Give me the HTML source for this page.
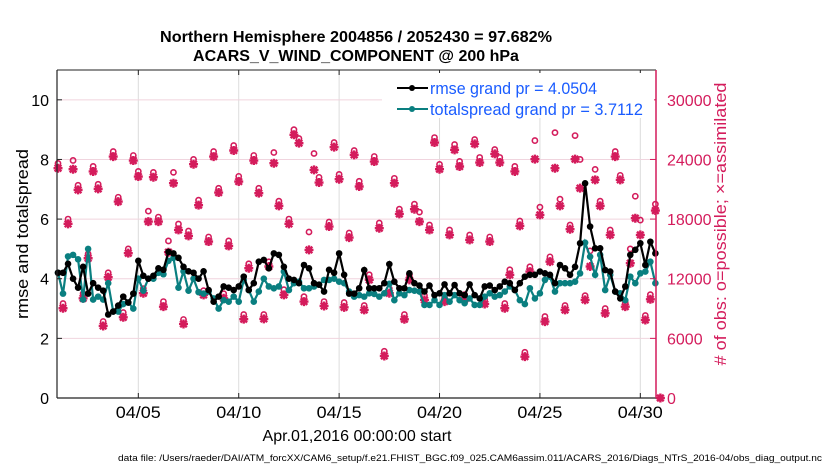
<!DOCTYPE html>
<html><head><meta charset="utf-8"><style>
body{margin:0;background:#fff;}
svg text{font-family:"Liberation Sans",Arial,sans-serif;}
</style></head><body>
<svg id="chart" width="830" height="470" viewBox="0 0 830 470" xmlns="http://www.w3.org/2000/svg">
<rect x="0" y="0" width="830" height="470" fill="#fff"/>
<text x="356" y="42" text-anchor="middle" font-size="16" font-weight="bold" textLength="392" lengthAdjust="spacingAndGlyphs">Northern Hemisphere 2004856 / 2052430 = 97.682%</text>
<text x="356" y="61" text-anchor="middle" font-size="16" font-weight="bold">ACARS_V_WIND_COMPONENT @ 200 hPa</text>
<g id="grid"></g>
<g id="obs"></g>
<g id="lines"></g>
<g id="axes"></g>
<text transform="translate(28,234) rotate(-90)" text-anchor="middle" font-size="17" textLength="170" lengthAdjust="spacingAndGlyphs">rmse and totalspread</text>
<text transform="translate(726,224) rotate(-90)" text-anchor="middle" font-size="17" fill="#d41c5c" textLength="283" lengthAdjust="spacingAndGlyphs"># of obs: o=possible; ×=assimilated</text>
<text x="357" y="441" text-anchor="middle" font-size="16" textLength="189" lengthAdjust="spacingAndGlyphs">Apr.01,2016 00:00:00 start</text>
<text x="470" y="461" text-anchor="middle" font-size="9" textLength="704" lengthAdjust="spacingAndGlyphs">data file: /Users/raeder/DAI/ATM_forcXX/CAM6_setup/f.e21.FHIST_BGC.f09_025.CAM6assim.011/ACARS_2016/Diags_NTrS_2016-04/obs_diag_output.nc</text>
<g>
<rect x="382" y="73" width="272" height="45" fill="#fff"/>
<g>
<line x1="397" y1="88" x2="428" y2="88" stroke="#000" stroke-width="2"/><circle cx="412" cy="88" r="3" fill="#000"/>
<text x="430" y="94" font-size="17" fill="#1a5cff" textLength="167" lengthAdjust="spacingAndGlyphs">rmse grand pr = 4.0504</text></g>
<g>
<line x1="397" y1="109" x2="428" y2="109" stroke="#0a7f80" stroke-width="2"/><circle cx="412" cy="109" r="3" fill="#0a7f80"/>
<text x="430" y="115" font-size="17" fill="#1a5cff" textLength="213" lengthAdjust="spacingAndGlyphs">totalspread grand pr = 3.7112</text></g>
</g>
</svg>
<script>
const rmse=[4.2,4.2,4.5,4.0,3.7,4.4,3.5,3.85,3.7,3.6,2.8,2.9,3.1,3.4,3.2,3.5,4.6,4.1,4.0,4.1,4.35,4.3,4.9,4.85,4.7,4.4,4.25,4.2,4.0,4.25,
3.62,3.23,3.4,3.74,3.7,3.62,3.74,4.07,3.62,3.85,4.57,4.63,4.35,4.85,4.8,4.4,4.0,3.96,3.85,4.46,4.35,3.85,3.8,3.57,4.3,4.2,4.85,4.13,3.5,3.5,
3.68,4.29,3.68,3.68,3.68,3.85,4.49,3.9,3.68,3.68,4.18,3.85,3.77,3.57,3.77,3.45,3.51,3.81,3.51,3.79,3.51,3.45,3.81,3.45,3.34,3.74,3.77,3.62,3.74,3.9,
3.85,3.62,3.85,4.07,4.13,4.13,4.24,4.18,4.13,3.85,4.46,4.35,4.13,4.4,5.19,7.2,5.75,5.02,5.02,4.29,4.24,3.57,3.34,3.74,4.8,4.97,5.19,4.46,5.24,4.85];
const spread=[4.2,3.5,4.75,4.8,4.65,3.3,5.0,3.3,3.4,3.3,3.85,2.9,2.9,3.15,3.2,3.0,4.0,3.6,4.0,4.0,4.2,4.15,4.6,4.7,3.7,4.25,3.6,4.0,3.55,3.5,
3.57,3.34,3.0,3.28,3.23,3.4,3.23,3.96,3.62,3.23,3.57,4.0,3.74,3.68,3.74,4.24,3.62,3.85,3.9,3.68,3.68,3.74,3.8,3.96,3.96,4.0,3.9,3.85,3.57,3.4,
3.45,3.4,3.51,3.49,3.4,3.51,3.83,3.28,3.51,3.45,3.62,3.6,3.57,3.12,3.12,3.28,3.12,3.45,3.23,3.45,3.28,3.18,3.34,3.12,3.12,3.4,3.51,3.4,3.45,3.57,
3.74,3.62,3.28,3.15,3.68,3.34,3.51,3.96,4.07,3.57,3.85,3.85,3.85,3.9,4.18,5.21,4.74,4.13,4.8,3.62,4.13,3.57,3.51,3.28,4.07,3.85,4.18,4.24,4.57,3.85];
const assimilated=[23120,9030,17520,23020,20940,10030,14060,22790,21040,7250,12150,24290,19760,8120,14570,23890,22280,10540,17750,22210,17750,9190,14670,21610,16910,7450,16310,23520,19400,10370,
15740,24290,20670,10030,15300,24900,21780,7930,13060,23890,20610,7960,13230,23620,19330,10370,17520,26480,25640,9700,14900,22950,21680,9260,17250,25240,22010,9120,16140,24460,
21280,8860,11890,23790,17080,4230,10540,21610,18520,7920,11890,18990,17750,9870,16910,25700,23020,9700,16410,24970,23290,9930,15910,25570,23690,9460,15740,24560,23690,9030,
12390,22790,17320,4160,12720,24030,18420,7690,13720,23120,19330,8860,16980,24030,21110,9870,13230,21950,19330,8520,16410,24290,21950,9190,13560,18090,16410,7850,9930,18860,0];
const possible=[23600,9500,18000,23900,21400,10500,14500,23300,21500,7700,12600,24800,20200,8600,15000,24400,22800,11000,18800,22700,18200,9700,15800,22700,17500,7900,16800,24000,19900,10800,
16200,24800,21100,10500,15800,25400,22300,8400,13500,24400,21100,8400,13700,24700,19800,10900,18000,27000,26100,10200,16700,24600,22200,9700,17700,25700,22500,9600,16600,24900,
21800,9300,12400,24300,17600,4700,11000,22100,19000,8400,12400,19500,18700,10300,17400,26200,23500,10200,16900,25500,23800,10400,16400,26000,24200,9900,16200,25000,24200,9500,
12900,23300,17800,4600,13200,25900,19200,8200,14200,26700,20000,9300,17400,26400,24000,10300,14800,23000,19800,9000,16900,24800,22400,9600,15000,20300,17900,8300,10400,19500,0];
const xTickDays=[4,9,14,19,24,29];
const xTickLabels=["04/05","04/10","04/15","04/20","04/25","04/30"];
const leftTicks=[0,2,4,6,8,10];
const rightTicks=[0,6000,12000,18000,24000,30000];

const NS="http://www.w3.org/2000/svg";
const L=57,R=656,T=70,B=398;
const xDay=d=>58+d*20.08;
const xIdx=i=>xDay(i*0.25);
const yL=v=>B-(v/11)*(B-T);
const yR=v=>B-(v/33000)*(B-T);
function mk(tag,attrs,parent){const e=document.createElementNS(NS,tag);for(const k in attrs)e.setAttribute(k,attrs[k]);parent.appendChild(e);return e;}
const grid=document.getElementById('grid'),axes=document.getElementById('axes'),obs=document.getElementById('obs'),lines=document.getElementById('lines');
const red="#d41c5c";
xTickDays.forEach((d,k)=>{
  const g=mk('line',{x1:xDay(d),x2:xDay(d),y1:T,y2:B,stroke:"#dcdcdc","stroke-width":1},grid);
  
  
  const t=mk('line',{x1:xDay(d),x2:xDay(d),y1:B,y2:B-5,stroke:"#222","stroke-width":1},axes);
  
  
  const tt=mk('line',{x1:xDay(d),x2:xDay(d),y1:T,y2:T+5,stroke:"#222","stroke-width":1},axes);
  
  
  const lb=mk('text',{x:xDay(d),y:B+20,"text-anchor":"middle","font-size":17,textLength:45,lengthAdjust:"spacingAndGlyphs"},axes);
  lb.textContent=xTickLabels[k];
  
  
});
rightTicks.forEach(v=>{
  if(v>0){const g=mk('line',{x1:L,x2:R,y1:yR(v),y2:yR(v),stroke:"#f0d4de","stroke-width":1},grid);
  
  }
  const t=mk('line',{x1:R,x2:R-6,y1:yR(v),y2:yR(v),stroke:red,"stroke-width":1},axes);
  
  
  const lb=mk('text',{x:R+11,y:yR(v)+6,"font-size":16,fill:red},axes);
  lb.textContent=v;
  
  
});
leftTicks.forEach(v=>{
  const t=mk('line',{x1:L,x2:L+5,y1:yL(v),y2:yL(v),stroke:"#222","stroke-width":1},axes);
  
  
  const lb=mk('text',{x:L-8,y:yL(v)+6,"text-anchor":"end","font-size":16},axes);
  lb.textContent=v;
  
  
});
const a1=mk('line',{x1:L,x2:L,y1:T,y2:B,stroke:"#222","stroke-width":1.2},axes);


const a2=mk('line',{x1:L,x2:R,y1:B,y2:B,stroke:"#222","stroke-width":1.2},axes);


const a3=mk('line',{x1:L,x2:R,y1:T,y2:T,stroke:"#222","stroke-width":1},axes);


const a4=mk('line',{x1:R,x2:R,y1:T,y2:B,stroke:red,"stroke-width":1.5},axes);



possible.forEach((v,i)=>{
  const c=mk('circle',{cx:xIdx(i),cy:yR(v),r:2.6,fill:"none",stroke:red,"stroke-width":1.6},obs);
  
  
});
assimilated.forEach((v,i)=>{
  const x=xIdx(i),y=yR(v),s=4.5;
  const p=mk('path',{d:`M${x-s},${y}H${x+s}M${x},${y-s}V${y+s}M${x-3.3},${y-3.3}L${x+3.3},${y+3.3}M${x-3.3},${y+3.3}L${x+3.3},${y-3.3}`,stroke:red,"stroke-width":2.4,fill:"none"},obs);
  
  
});
function series(arr,color,name){
  const pl=mk('polyline',{points:arr.map((v,i)=>xIdx(i)+","+yL(v)).join(" "),fill:"none",stroke:color,"stroke-width":2.2},lines);
  
  
  arr.forEach((v,i)=>{
    const c=mk('circle',{cx:xIdx(i),cy:yL(v),r:3.3,fill:color},lines);
    
    
  });
}
series(spread,"#0a7f80","totalspread");
series(rmse,"#000000","rmse");
</script>
</body></html>
